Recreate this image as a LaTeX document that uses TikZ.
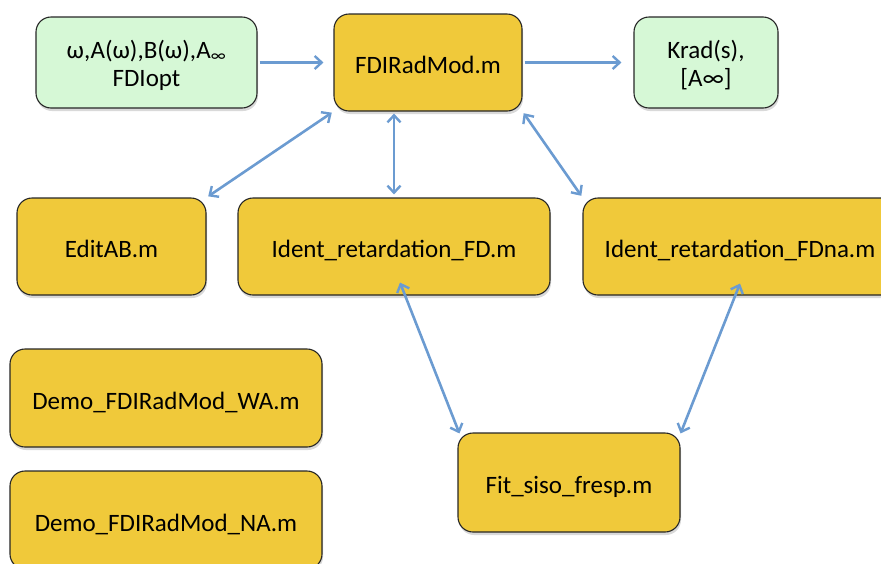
\documentclass[tikz,border=0pt]{standalone}
\usepackage{fontspec}
\setmainfont{Carlito}
\usetikzlibrary{shadows,arrows.meta}
\definecolor{boxyellow}{HTML}{F0C93A}
\definecolor{boxgreen}{HTML}{D6F8D6}
\definecolor{arrowblue}{HTML}{6B9BD1}
\tikzset{
  basebox/.style={draw=black!85, line width=1.1pt, rounded corners=15pt, align=center,
    font=\fontsize{25}{28}\selectfont, inner sep=0pt,
    drop shadow={opacity=0.3, shadow xshift=1pt, shadow yshift=-3pt}},
  ybox/.style={basebox, fill=boxyellow, text height=22pt, text depth=0pt},
  gbox/.style={basebox, fill=boxgreen, text height=60pt, text depth=13pt},
  conn/.style={draw=arrowblue, line width=2.6pt, -{Straight Barb[length=7pt,width=13pt,line width=2.4pt]}},
  dconn/.style={conn, {Straight Barb[length=7pt,width=13pt,line width=2.4pt]}-{Straight Barb[length=7pt,width=13pt,line width=2.4pt]}}
}
\begin{document}
\begin{tikzpicture}[x=1pt,y=-1pt]
\useasboundingbox (0,0) rectangle (881,563);
\node[gbox, minimum width=221pt, minimum height=91pt] (in) at (146.5,62.5) {ω,A(ω),B(ω),A\textsubscript{∞}\\FDIopt};
\node[ybox, minimum width=188pt, minimum height=97pt] (fdi) at (428,62.5) {FDIRadMod.m};
\node[gbox, minimum width=144pt, minimum height=91pt] (krad) at (706,62.5) {Krad(s),\\{[}A∞{]}};
\node[ybox, minimum width=189pt, minimum height=97pt] (edit) at (111.5,246.5) {EditAB.m};
\node[ybox, minimum width=312pt, minimum height=97pt] (ifd) at (394,246.5) {Ident\_retardation\_FD.m};
\node[ybox, minimum width=314pt, minimum height=97pt] (ifdna) at (740,246.5) {Ident\_retardation\_FDna.m};
\node[ybox, minimum width=312pt, minimum height=98pt] (wa) at (166,398) {Demo\_FDIRadMod\_WA.m};
\node[ybox, minimum width=312pt, minimum height=98pt] (na) at (166,520) {Demo\_FDIRadMod\_NA.m};
\node[ybox, minimum width=222pt, minimum height=99pt] (fit) at (569,482.5) {Fit\_siso\_fresp.m};

\draw[conn, shorten <=2pt, shorten >=10pt] (in.east) -- (fdi.west);
\draw[conn, shorten <=2pt, shorten >=12pt] (fdi.east) -- (krad.west);
\draw[dconn, shorten <=2pt, shorten >=2pt] (fdi.south west) -- (edit.north east);
\draw[dconn, shorten <=2pt, shorten >=3pt] (ifd.north |- fdi.south) -- (ifd.north);
\draw[dconn, shorten <=2pt, shorten >=2pt] (fdi.south east) -- (ifdna.north west);
\draw[dconn] ([xshift=6pt,yshift=13pt]ifd.south) -- ([xshift=2pt,yshift=-1pt]fit.north west);
\draw[dconn] ([yshift=12pt]ifdna.south) -- ([xshift=0pt,yshift=-1pt]fit.north east);
\end{tikzpicture}
\end{document}
